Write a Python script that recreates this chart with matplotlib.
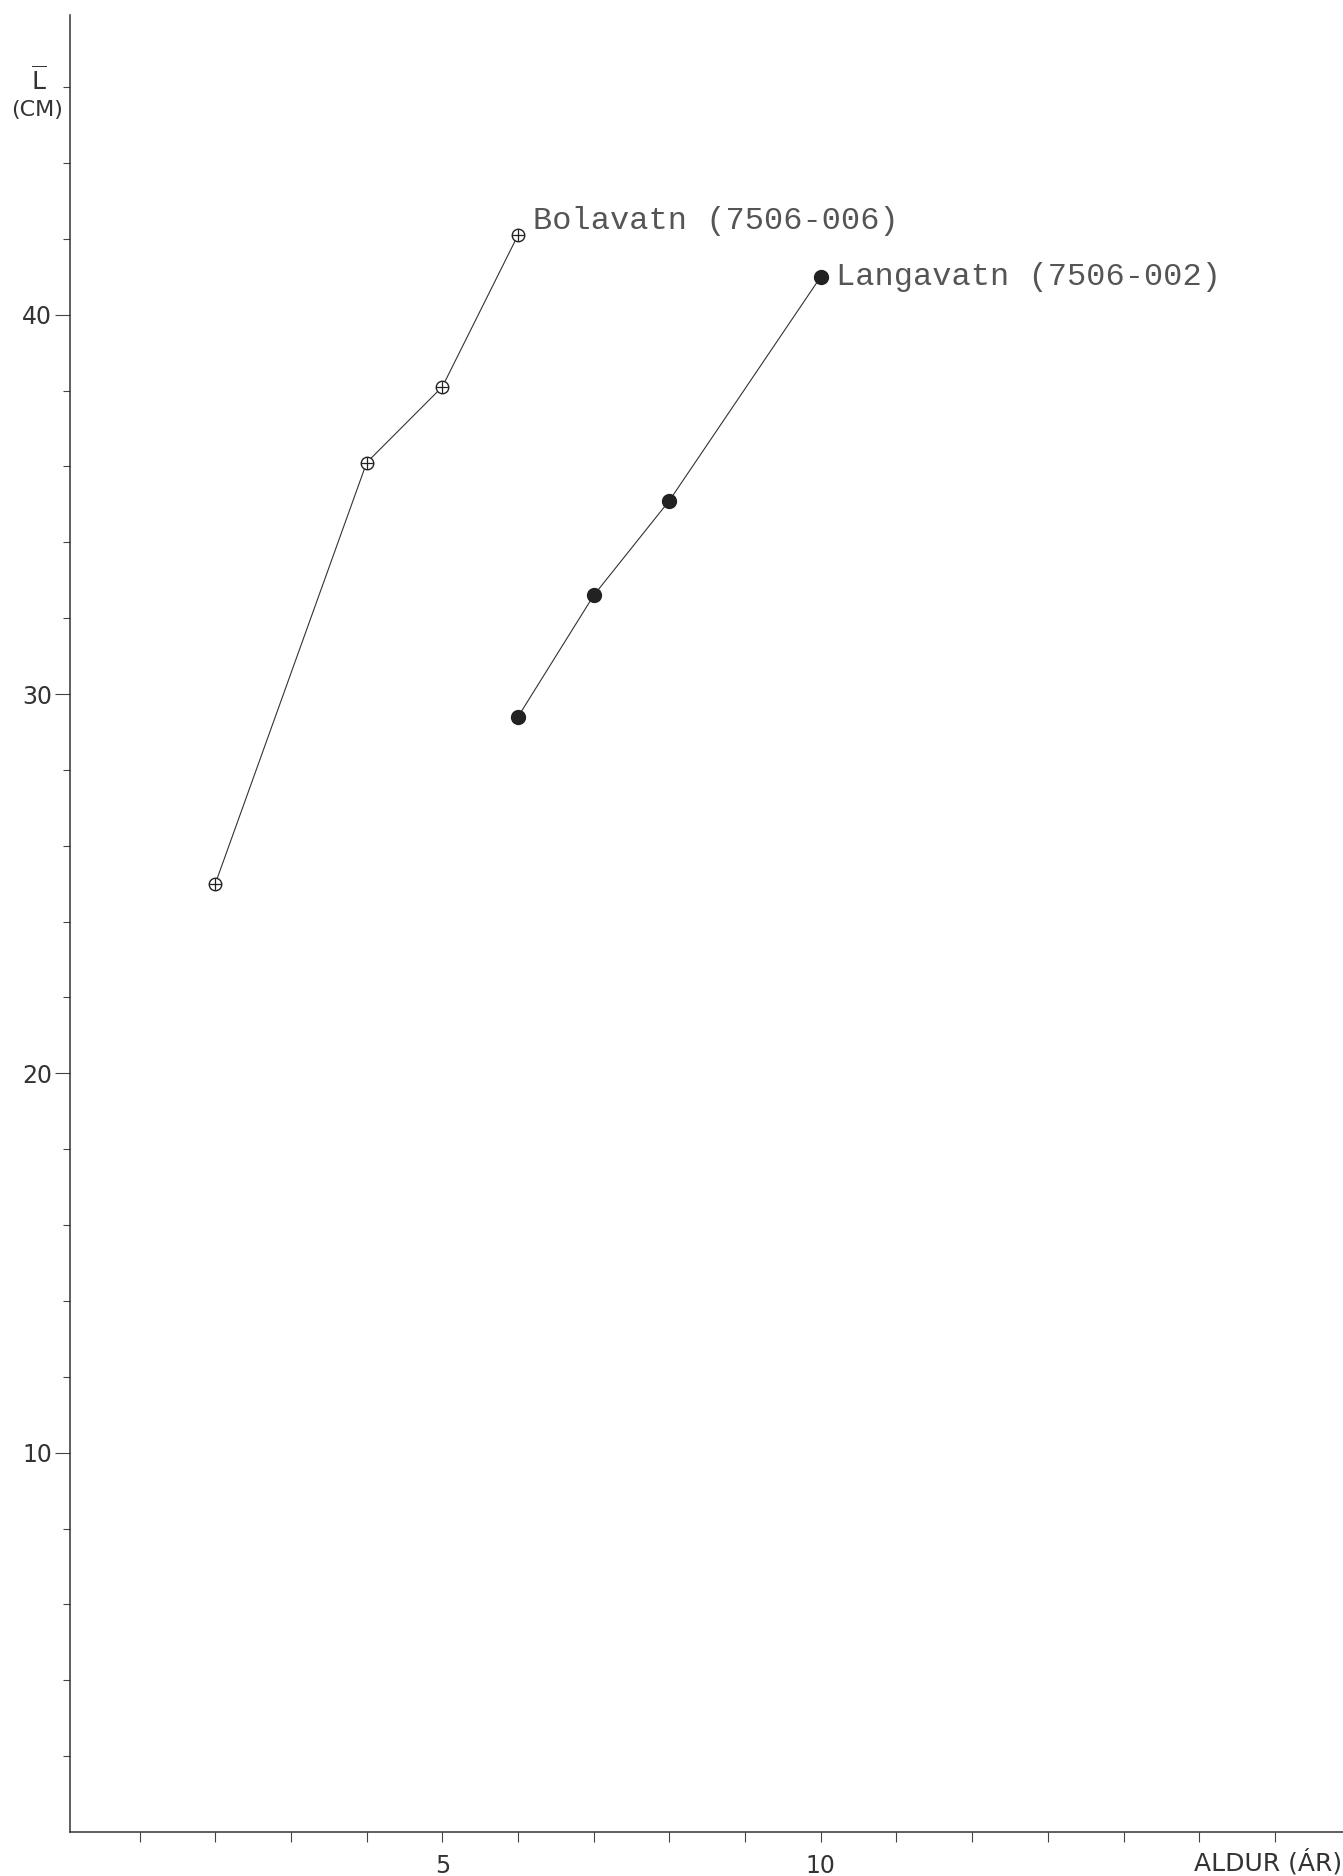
import matplotlib
matplotlib.use("Agg")
import matplotlib.pyplot as plt

# aldur (ar) og medallengd (cm)
bola_age = [2, 4, 5, 6]
bola_len = [25.0, 36.1, 38.1, 42.1]
langa_age = [6, 7, 8, 10]
langa_len = [29.4, 32.6, 35.1, 41.0]

bola_name = "Bolavatn (7506-006)"
langa_name = "Langavatn (7506-002)"

x_ticks = list(range(1, 17))
x_labels = {5: "5", 10: "10"}
y_ticks = list(range(2, 48, 2))
y_labels = {10: "10", 20: "20", 30: "30", 40: "40"}

W, H = 1343, 1876
fig = plt.figure(figsize=(W / 100, H / 100), dpi=100)
ax = fig.add_axes([70 / W, 44 / H, (W - 70) / W, (1832 - 15) / H])

ax.set_xlim(0.08, 16.9)
ax.set_ylim(0, 47.9)

for s in ["top", "right"]:
    ax.spines[s].set_visible(False)
for s in ["left", "bottom"]:
    ax.spines[s].set_linewidth(1.1)
    ax.spines[s].set_color("#333333")

# Bolavatn: opnir hringir med krossi
ax.plot(bola_age, bola_len, "-", color="#333333", lw=0.8)
ax.plot(bola_age, bola_len, "o", ms=9, mfc="white", mec="#222222", mew=1.0)
ax.plot(bola_age, bola_len, "+", ms=9, color="#222222", mew=0.9)

# Langavatn: fylltir hringir
ax.plot(langa_age, langa_len, "-", color="#333333", lw=0.8)
ax.plot(langa_age, langa_len, "o", ms=10, color="#222222")

mono = "Liberation Mono"
ax.annotate(bola_name, (bola_age[-1], bola_len[-1]), xytext=(11, 10),
            textcoords="offset points", fontsize=23, family=mono,
            color="#555555", va="center", ha="left")
ax.annotate(langa_name, (langa_age[-1], langa_len[-1]), xytext=(11, 0),
            textcoords="offset points", fontsize=23, family=mono,
            color="#555555", va="center", ha="left")

ax.set_xticks(x_ticks)
ax.set_xticklabels([x_labels.get(t, "") for t in x_ticks])
ax.set_yticks(y_ticks)
ax.set_yticklabels([y_labels.get(t, "") for t in y_ticks])
ax.tick_params(axis="x", direction="out", length=7, width=0.8,
               color="#444444", labelsize=17, labelcolor="#333333", pad=9)
ax.tick_params(axis="y", direction="out", length=5, width=0.8,
               color="#444444", labelsize=17, labelcolor="#333333", pad=8)
for t, lab in zip(ax.yaxis.get_major_ticks(), y_ticks):
    if lab % 10 == 0:
        t.tick1line.set_markersize(11)

fig.text(39 / W, 1 - 80 / H, r"$\overline{\mathrm{L}}$", fontsize=18,
         ha="center", va="center", color="#333333")
fig.text(37 / W, 1 - 110 / H, "(CM)", fontsize=16,
         ha="center", va="center", color="#333333")
fig.text(1268 / W, 1 - 1862 / H, "ALDUR (ÁR)", fontsize=18,
         ha="center", va="center", color="#333333")

fig.savefig("out.png", dpi=100, facecolor="white")
